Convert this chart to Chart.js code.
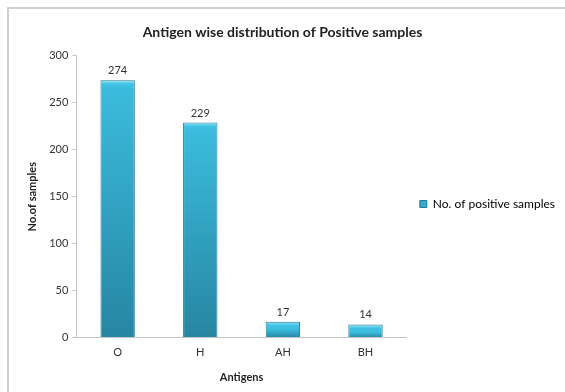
<!DOCTYPE html>
<html>
<head>
<meta charset="utf-8">
<script src="https://cdn.jsdelivr.net/npm/chart.js@4/dist/chart.umd.min.js"></script>
<style>
  html, body { margin: 0; padding: 0; background: #fff; overflow: hidden; }
  canvas { display: block; }
</style>
</head>
<body>
<canvas id="c" width="565" height="392"></canvas>
<script>
// Antigen categories and counts of positive samples
const antigens = ['O', 'H', 'AH', 'BH'];
const positiveSamples = [274, 229, 17, 14];
const yTicks = [0, 50, 100, 150, 200, 250, 300];

const FONT = 'Lato, "Open Sans", sans-serif';

// Per-bar vertical gradient: bright rim on top, darker teal at the base
function barFill(ctx) {
  const chart = ctx.chart;
  if (!chart.chartArea || !chart.scales.y) return '#37aed0';
  const yTop = chart.scales.y.getPixelForValue(ctx.raw);
  const yBase = chart.scales.y.getPixelForValue(0);
  if (!isFinite(yTop) || yBase - yTop < 1) return '#37aed0';
  const g = chart.ctx.createLinearGradient(0, yTop, 0, yBase);
  const h = yBase - yTop;
  const rim = Math.min(0.5, 4 / h);
  g.addColorStop(0, '#8fe3f5');
  g.addColorStop(rim, '#3fc2e4');
  g.addColorStop(Math.min(1, rim * 2), '#3bbbdd');
  g.addColorStop(1, '#2686a2');
  return g;
}

// Light frame along the top and left edges of the chart panel
const panelFrame = {
  id: 'panelFrame',
  beforeDraw(chart) {
    const { ctx, width, height } = chart;
    ctx.save();
    ctx.strokeStyle = '#cfcfcf';
    ctx.lineWidth = 2;
    ctx.beginPath();
    ctx.moveTo(width + 2, 8);
    ctx.lineTo(8, 8);
    ctx.lineTo(8, height + 2);
    ctx.stroke();
    ctx.restore();
  }
};

// Value labels above each bar
const valueLabels = {
  id: 'valueLabels',
  afterDatasetsDraw(chart) {
    const { ctx } = chart;
    const meta = chart.getDatasetMeta(0);
    ctx.save();
    ctx.font = '11px ' + FONT;
    ctx.fillStyle = '#333';
    ctx.textAlign = 'center';
    ctx.textBaseline = 'bottom';
    meta.data.forEach((bar, i) => {
      ctx.fillText(String(chart.data.datasets[0].data[i]), bar.x, bar.y - 4);
    });
    ctx.restore();
  }
};

function draw() {
  new Chart(document.getElementById('c'), {
    type: 'bar',
    data: {
      labels: antigens,
      datasets: [{
        label: 'No. of positive samples',
        data: positiveSamples,
        backgroundColor: barFill,
        borderColor: '#237a94',
        borderWidth: 1,
        categoryPercentage: 0.8,
        barPercentage: 0.52
      }]
    },
    options: {
      responsive: false,
      animation: false,
      layout: { padding: { top: 20, left: 0, right: 0, bottom: 4 } },
      plugins: {
        title: {
          display: true,
          text: 'Antigen wise distribution of Positive samples',
          color: '#222',
          font: { family: FONT, size: 14, weight: 'bold' },
          padding: { top: 4, bottom: 15 }
        },
        legend: {
          position: 'right',
          maxWidth: 175,
          labels: {
            boxWidth: 7,
            boxHeight: 7,
            color: '#333',
            padding: 13,
            font: { family: FONT, size: 12 },
            generateLabels(chart) {
              return [{
                text: chart.data.datasets[0].label,
                fillStyle: '#35abcd',
                strokeStyle: '#237a94',
                lineWidth: 1,
                datasetIndex: 0
              }];
            }
          }
        },
        tooltip: { enabled: false }
      },
      scales: {
        x: {
          grid: { display: false, drawTicks: false },
          border: { color: '#c6c6c6' },
          ticks: { color: '#333', font: { family: FONT, size: 11 }, padding: 8 },
          title: {
            display: true, text: 'Antigens', color: '#222',
            font: { family: FONT, size: 11, weight: 'bold' }, padding: { top: 4 }
          }
        },
        y: {
          min: 0, max: 300,
          afterBuildTicks(axis) { axis.ticks = yTicks.map(v => ({ value: v })); },
          grid: { drawOnChartArea: false, tickLength: 4, color: '#c6c6c6' },
          border: { color: '#c6c6c6' },
          ticks: { color: '#333', font: { family: FONT, size: 11 }, padding: 4 },
          title: {
            display: true, text: 'No.of samples', color: '#222',
            font: { family: FONT, size: 11, weight: 'bold' }, padding: { top: 26, bottom: 6 }
          }
        }
      }
    },
    plugins: [panelFrame, valueLabels]
  });
}

// Make sure the local fonts are ready before text gets measured
Promise.all([
  document.fonts.load('11px Lato'),
  document.fonts.load('12px Lato'),
  document.fonts.load('bold 14px Lato'),
  document.fonts.load('bold 11px Lato')
]).then(draw, draw);
</script>
</body>
</html>
